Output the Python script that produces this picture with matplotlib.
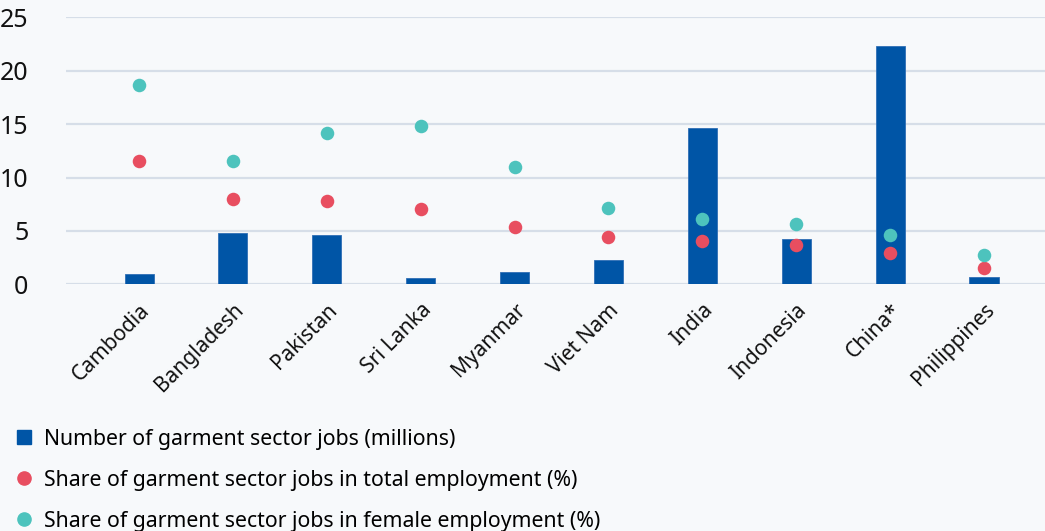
import numpy as np
import matplotlib.pyplot as plt
from matplotlib.lines import Line2D

plt.rcParams['font.family'] = ['Noto Sans', 'DejaVu Sans']

# Garment sector employment by country
countries = ['Cambodia', 'Bangladesh', 'Pakistan', 'Sri Lanka', 'Myanmar',
             'Viet Nam', 'India', 'Indonesia', 'China*', 'Philippines']
jobs_millions = [1.0, 4.85, 4.65, 0.6, 1.15, 2.3, 14.65, 4.25, 22.35, 0.65]
share_total = [11.5, 8.0, 7.8, 7.05, 5.4, 4.45, 4.1, 3.65, 2.95, 1.5]
share_female = [18.7, 11.5, 14.2, 14.85, 11.0, 7.1, 6.1, 5.6, 4.6, 2.7]
yticks = [0, 5, 10, 15, 20, 25]

bar_color = '#0055a6'
red = '#e84e60'
teal = '#4dc3bd'
bg = '#f7f9fb'
grid = '#d6dee8'

fig = plt.figure(figsize=(10.45, 5.31), dpi=100, facecolor=bg)
ax = fig.add_axes([0.063, 0.4646, 0.937, 0.5028])
ax.set_facecolor(bg)

x = np.arange(len(countries))
ax.bar(x, jobs_millions, width=0.31, color=bar_color, edgecolor='#2f6fb5',
       linewidth=0.6, zorder=2)
ax.scatter(x, share_total, s=95, color=red, zorder=3, linewidths=0)
ax.scatter(x, share_female, s=95, color=teal, zorder=3, linewidths=0)

ax.set_xlim(-0.78, 9.65)
ax.set_ylim(0, 25)
ax.set_yticks(yticks)
ax.set_yticklabels([str(v) for v in yticks], fontsize=18)
ax.set_xticks(x)
ax.set_xticklabels(countries, rotation=45, ha='right', va='top',
                   rotation_mode='anchor', fontsize=15)
ax.tick_params(axis='both', length=0, colors='#111111')
ax.tick_params(axis='y', pad=27)
ax.tick_params(axis='x', pad=11)

ax.grid(axis='y', color=grid, linewidth=1.6, zorder=0)
for s in ax.spines.values():
    s.set_visible(False)

handles = [
    Line2D([], [], marker='s', linestyle='none', color=bar_color, markersize=9.5),
    Line2D([], [], marker='o', linestyle='none', color=red, markersize=9.5),
    Line2D([], [], marker='o', linestyle='none', color=teal, markersize=9.5),
]
labels = ['Number of garment sector jobs (millions)',
          'Share of garment sector jobs in total employment (%)',
          'Share of garment sector jobs in female employment (%)']
fig.legend(handles, labels, loc='upper left', bbox_to_anchor=(0.0145, 0.193),
           frameon=False, fontsize=15.3, handlelength=0.8, handletextpad=0.55,
           labelspacing=0.95, borderaxespad=0, borderpad=0)

fig.savefig('out.png', dpi=100, facecolor=bg)
